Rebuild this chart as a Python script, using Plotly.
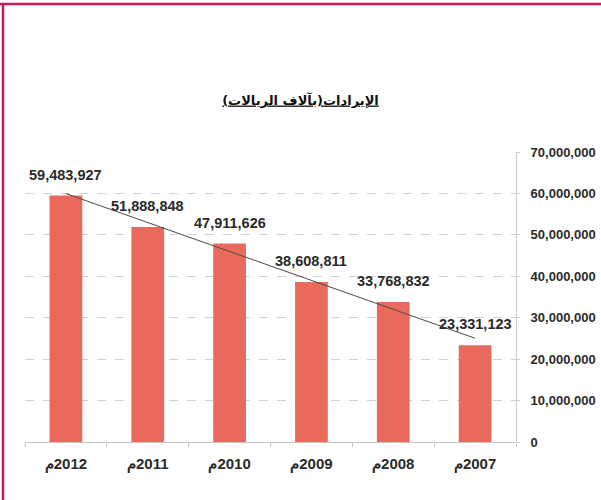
import numpy as np
import plotly.graph_objects as go

# Revenue (thousand riyals), right-to-left year order as in the source chart
years = ["2012", "2011", "2010", "2009", "2008", "2007"]
revenue = [59483927, 51888848, 47911626, 38608811, 33768832, 23331123]
y_ticks = [0, 10000000, 20000000, 30000000, 40000000, 50000000, 60000000, 70000000]

# category labels rendered right-to-left ("2012م")
labels = ["\u200f" + y + "م" for y in years]

BAR_COLOR = "#e96a5c"
TEXT_COLOR = "#2a2a2a"
FONT = "Liberation Sans, Arial"

# linear trendline (like Excel's)
idx = np.arange(len(revenue))
slope, intercept = np.polyfit(idx, revenue, 1)
trend = slope * idx + intercept

fig = go.Figure()

fig.add_trace(go.Bar(
    x=labels,
    y=revenue,
    width=0.4,
    marker=dict(color=BAR_COLOR, line=dict(width=0)),
    hoverinfo="skip",
))

fig.add_trace(go.Scatter(
    x=labels,
    y=trend,
    mode="lines",
    line=dict(color="#4a4a4a", width=1),
    hoverinfo="skip",
))

for lab, val in zip(labels, revenue):
    fig.add_annotation(
        x=lab, y=val, text=f"{val:,}",
        showarrow=False, yanchor="middle", yshift=21,
        font=dict(family=FONT, size=14.5, color=TEXT_COLOR, weight="bold"),
    )

# pink frame at top and left
frame = "#c8185a"
fig.add_shape(type="line", xref="paper", yref="paper",
              x0=-25 / 491, x1=1 + 85 / 491, y0=1 + 148 / 290, y1=1 + 148 / 290,
              line=dict(color=frame, width=2.5))
fig.add_shape(type="line", xref="paper", yref="paper",
              x0=-22 / 491, x1=-22 / 491, y0=1 + 148 / 290, y1=-58 / 290,
              line=dict(color=frame, width=2.5))

fig.update_layout(
    width=601, height=500,
    margin=dict(l=25, r=85, t=152, b=58, autoexpand=False),
    paper_bgcolor="white", plot_bgcolor="white",
    showlegend=False,
    title=dict(
        text="<b><u>الإيرادات(بآلاف الريالات)</u></b>",
        x=0.5, xanchor="center", y=0.8, yanchor="middle",
        font=dict(family="DejaVu Sans, Noto Sans", size=13, color="#111111"),
    ),
    xaxis=dict(
        type="category",
        automargin=False,
        showgrid=False,
        showline=False,
        ticks="outside", tickson="boundaries", ticklen=4, tickcolor="#c8c8c8",
        ticklabelstandoff=11,
        tickfont=dict(family=FONT, size=15, color=TEXT_COLOR, weight="bold"),
    ),
    yaxis=dict(
        side="right",
        automargin=False,
        range=[0, 70000000],
        tickvals=y_ticks,
        tickformat=",d",
        showline=True, linecolor="#cccccc", linewidth=1,
        showgrid=True, gridcolor="#d2d2d2", griddash="dash", gridwidth=1,
        zeroline=True, zerolinecolor="#c4c4c4", zerolinewidth=1,
        ticks="outside", ticklen=3, tickcolor="#cccccc",
        ticklabelstandoff=8,
        tickfont=dict(family=FONT, size=13, color=TEXT_COLOR, weight="bold"),
    ),
)

# drop the page's default body margin so the figure sits at the window corner
fig.write_html(
    "out.html",
    config={"displayModeBar": False},
    post_script="document.body.style.margin='0';document.body.style.overflow='hidden';",
)
